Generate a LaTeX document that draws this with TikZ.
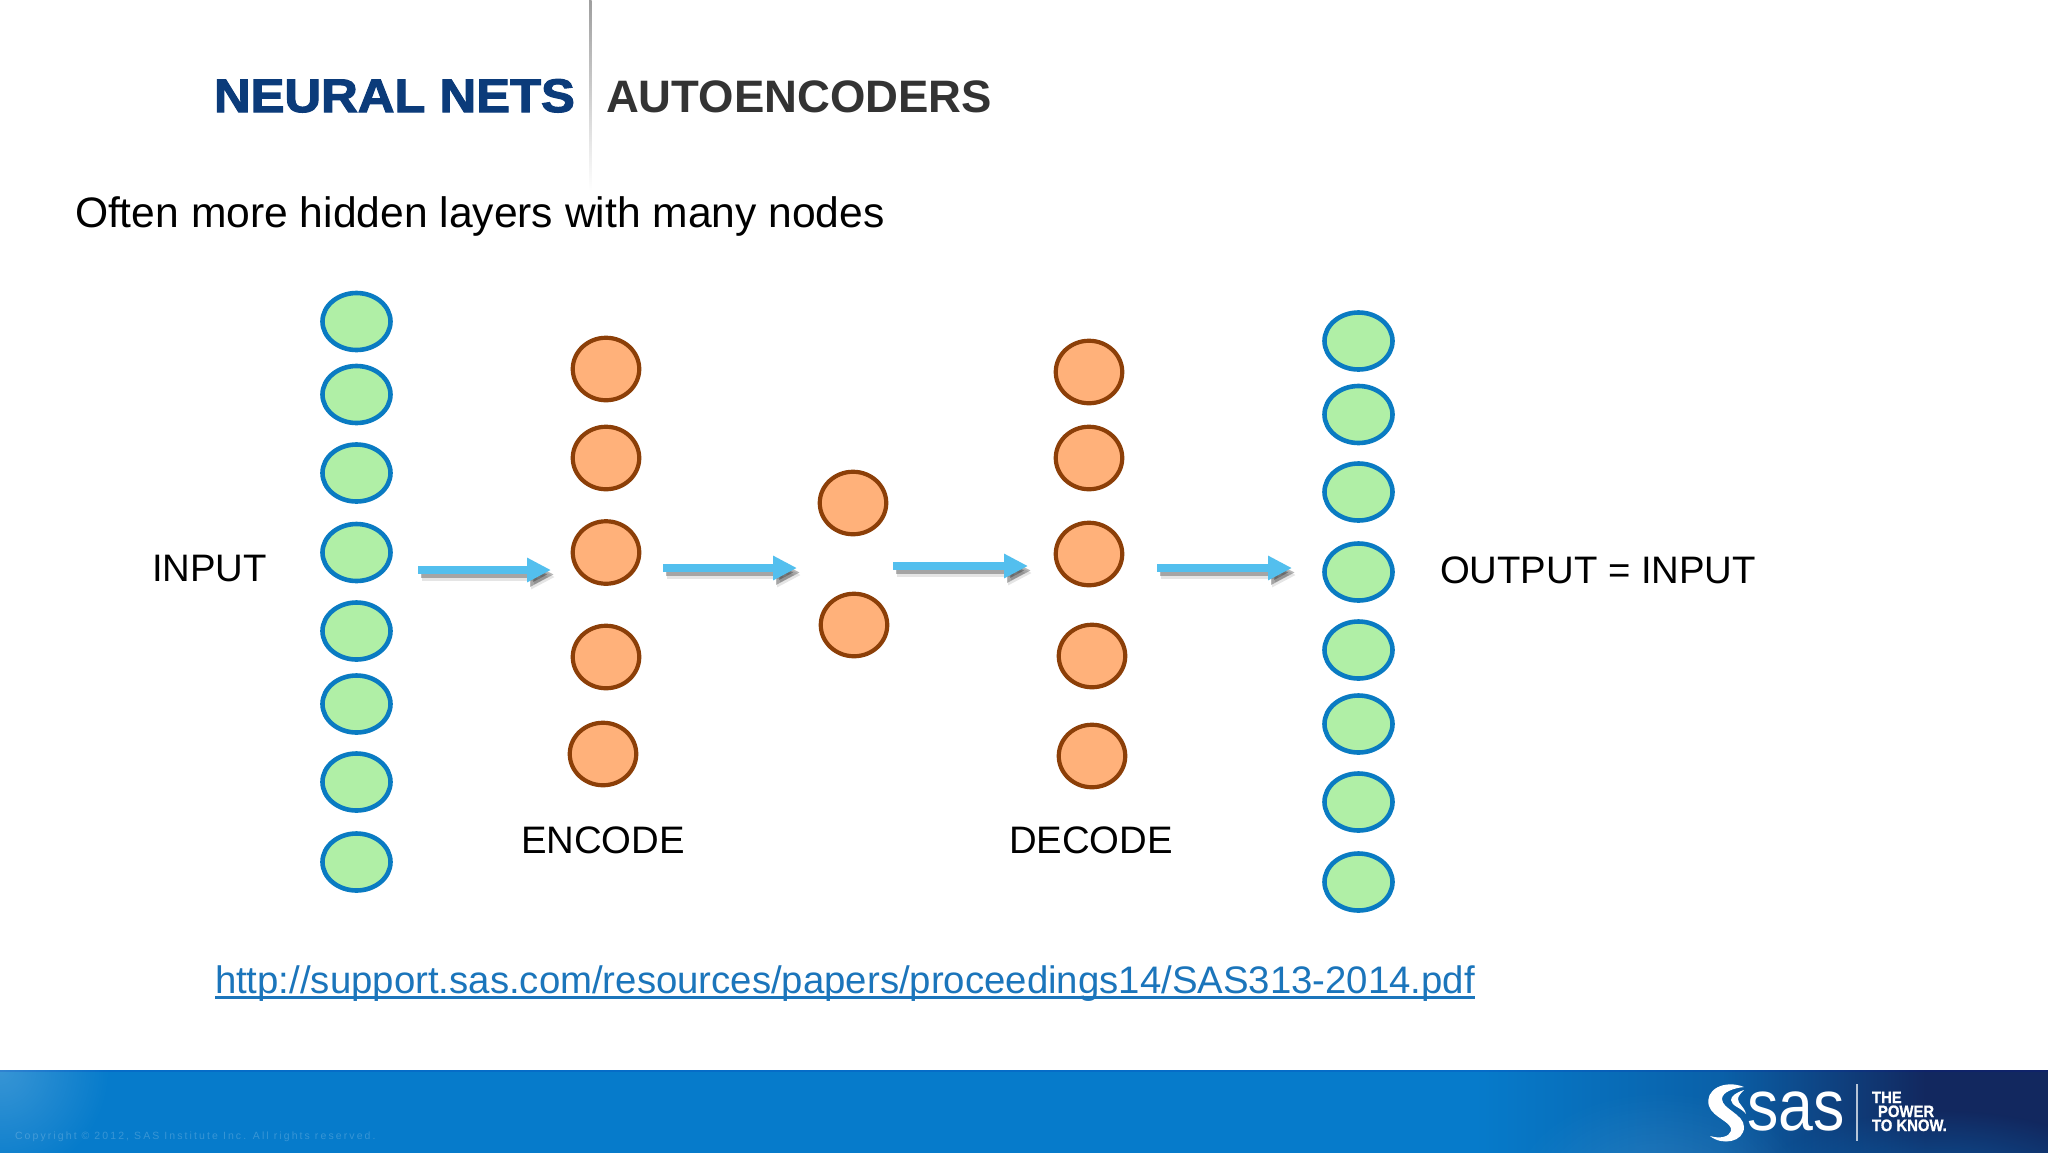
\documentclass[tikz,border=0pt]{standalone}
\usepackage{fontspec}
\setmainfont{Liberation Sans}
\newfontface\heavyface[FakeBold=2.4,FakeStretch=1.08]{Liberation Sans Bold}
\newfontface\sasface[FakeStretch=.87]{Liberation Sans}
\newfontface\powerface[FakeStretch=.9,FakeBold=.8]{Liberation Sans Bold}
\usetikzlibrary{shapes.geometric,arrows.meta,calc,fadings}
\tikzfading[name=softround,inner color=transparent!0,outer color=transparent!100]
\definecolor{greenfill}{HTML}{B0EFA6}
\definecolor{greenline}{HTML}{0A7BC2}
\definecolor{orangefill}{HTML}{FFB17A}
\definecolor{orangeline}{HTML}{8C3F08}
\definecolor{arrowblue}{HTML}{53BFEE}
\definecolor{titleblue}{HTML}{0B3B7A}
\definecolor{titlegray}{HTML}{333333}
\definecolor{linkblue}{HTML}{1B75BB}
\definecolor{bandblue}{HTML}{067BCB}
\definecolor{banddark}{HTML}{12285F}
\pgfdeclarehorizontalshading{bandshade}{100bp}{
  color(0bp)=(bandblue); color(61bp)=(bandblue); color(67bp)=(bandblue!68!banddark);
  color(72bp)=(banddark); color(100bp)=(banddark)}
\tikzset{
  inlayer/.style={ellipse,draw=greenline,fill=greenfill,line width=4.6pt,inner sep=0pt,minimum width=68pt,minimum height=57pt},
  midlayer/.style={ellipse,draw=orangeline,fill=orangefill,line width=4.2pt,inner sep=0pt,minimum width=66.5pt,minimum height=62.5pt},
  flow/.style={draw=arrowblue,line width=7.5pt,-{Triangle[length=24pt,width=23pt,fill=arrowblue]}},
  flowshadow/.style={draw=black,line width=7pt,-{Triangle[length=24pt,width=23pt]}},
  plain/.style={anchor=base west,inner sep=0pt,outer sep=0pt},
  lbl/.style={plain,font=\fontsize{38.3}{38.3}\selectfont,text=black},
}
\begin{document}
\begin{tikzpicture}[x=1pt,y=-1pt]
\useasboundingbox (0,0) rectangle (2048,1152);
\fill[white] (0,0) rectangle (2048,1152);
% title rule
\shade[top color=black!38,bottom color=white] (589,0) rectangle (591.5,190);
\node[plain,font=\heavyface\fontsize{47}{47}\selectfont,text=titleblue] (t1) at (214,112) {NEURAL NETS};
\node[plain,font=\bfseries\fontsize{45.5}{45.5}\selectfont,text=titlegray] (t2) at (606,112) {AUTOENCODERS};
\node[plain,font=\fontsize{42.6}{42.6}\selectfont,text=black] (sub) at (75,227) {Often more hidden layers with many nodes};
% layers
\foreach \n/\x/\y in {a1/356.5/321.5,a2/356.5/394.5,a3/356.5/473,a4/356.5/552.5,a5/356.5/631,a6/356.5/704,a7/356.5/782,a8/356.5/862,
  e1/1358.5/341,e2/1358.5/414.5,e3/1358.5/492,e4/1358.5/572,e5/1358.5/650,e6/1358.5/724,e7/1358.5/802,e8/1358.5/882}
  \node[inlayer] (\n) at (\x,\y) {};
\foreach \n/\x/\y in {b1/606/369,b2/606/458,b3/606/552.5,b4/606/657,b5/603/754,
  c1/853/503,c2/854/625,
  d1/1089/372,d2/1089/458,d3/1089/554,d4/1092/656,d5/1092/756}
  \node[midlayer] (\n) at (\x,\y) {};
% arrows
\coordinate (f1a) at (418,570); \coordinate (f1b) at (551,570);
\coordinate (f2a) at (663,568); \coordinate (f2b) at (797,568);
\coordinate (f3a) at (893,566); \coordinate (f3b) at (1028,566);
\coordinate (f4a) at (1157,568); \coordinate (f4b) at (1292,568);
\foreach \p/\q in {f1a/f1b,f2a/f2b,f3a/f3b,f4a/f4b}{
  \draw[flowshadow,opacity=.10] ($(\p)+(4,7)$) -- ($(\q)+(4,7)$);
  \draw[flowshadow,opacity=.28] ($(\p)+(3,4.5)$) -- ($(\q)+(3,4.5)$);
  \draw[flow] (\p) -- (\q);
}
% labels
\node[lbl] (lin) at (152,581) {INPUT};
\node[lbl] (lout) at (1440,583) {OUTPUT = INPUT};
\node[lbl] (lenc) at (521,853.5) {ENCODE};
\node[lbl] (ldec) at (1009,853.5) {DECODE};
\node[plain,font=\fontsize{38.35}{38.35}\selectfont,text=linkblue] (url) at (215,993) {http://support.sas.com/resources/papers/proceedings14/SAS313-2014.pdf};
\draw[linkblue,line width=2.3pt] ($(url.base west)+(0,4.5)$) -- ($(url.base east)+(0,4.5)$);
% footer band
\shade[shading=bandshade] (0,1070) rectangle (2048,1152);
\begin{scope}
  \clip (0,1070) rectangle (2048,1152);
  \fill[white,opacity=.2,path fading=softround] (0,1070) circle (110);
  \fill[white,opacity=.12,path fading=softround] (1660,1190) ellipse (150 and 100);
  \fill[bandblue,opacity=.55,path fading=softround] (1940,1190) ellipse (190 and 80);
\end{scope}
\fill[black!30!blue,opacity=.12] (0,1070) rectangle (2048,1071.5);
\node[plain,font=\fontsize{10.5}{10.5}\selectfont,text=white,text opacity=.2] (copy) at (15,1139) {\addfontfeatures{LetterSpace=20}Copyright © 2012, SAS Institute Inc. All rights reserved.};
% logo
\fill[white] (1744,1087) .. controls (1724,1079) and (1704,1090) .. (1709,1106)
  .. controls (1713,1118) and (1733,1122) .. (1731,1131) .. controls (1729,1137) and (1720,1139) .. (1710,1136)
  .. controls (1722,1146) and (1744,1142) .. (1744,1127) .. controls (1744,1114) and (1722,1109) .. (1722,1099)
  .. controls (1722,1092) and (1734,1088) .. (1744,1087) -- cycle;
\fill[white] (1744,1090) .. controls (1737,1092) and (1731,1096) .. (1731,1100) .. controls (1731,1106) and (1742,1108) .. (1746,1114)
  .. controls (1744,1106) and (1738,1104) .. (1738,1099) .. controls (1738,1096) and (1741,1093) .. (1744,1090) -- cycle;
\node[plain,font=\sasface\fontsize{72}{72}\selectfont,text=white] (saslogo) at (1747,1130) {sas};
\draw[white,opacity=.7,line width=1.2pt] (1857,1084) -- (1857,1141);
\node[plain,font=\powerface\fontsize{16.5}{16.5}\selectfont,text=white] (pw1) at (1872,1103) {THE};
\node[plain,font=\powerface\fontsize{16.5}{16.5}\selectfont,text=white] (pw2) at (1878,1117) {POWER};
\node[plain,font=\powerface\fontsize{16.5}{16.5}\selectfont,text=white] (pw3) at (1872,1131) {TO KNOW.};
\end{tikzpicture}
\end{document}
